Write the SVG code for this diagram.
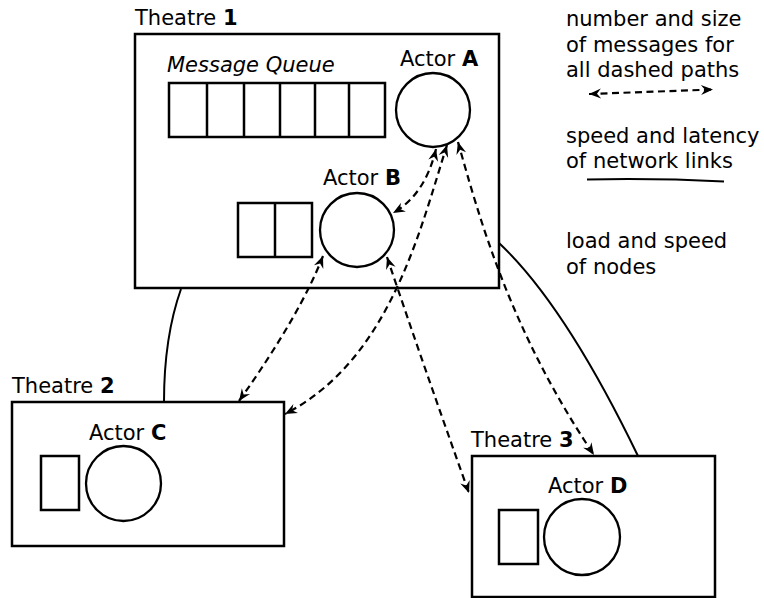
<svg xmlns="http://www.w3.org/2000/svg" width="764" height="598" viewBox="0 0 764 598">
<style>
text{font-family:"DejaVu Sans","Liberation Sans",sans-serif;font-size:21px;fill:#000}
.b{font-weight:bold}
.box{fill:#fff;stroke:#000;stroke-width:2.5}
.q{fill:none;stroke:#000;stroke-width:2.5}
.actor{fill:#fff;stroke:#000;stroke-width:2.3}
.link{fill:none;stroke:#000;stroke-width:2}
.msg{fill:none;stroke:#000;stroke-width:2.2;stroke-dasharray:7,4.5;marker-start:url(#ah);marker-end:url(#ah)}
</style>
<defs>
<marker id="ah" viewBox="-14 -7 16 14" markerWidth="16" markerHeight="14" refX="0" refY="0" orient="auto-start-reverse" markerUnits="userSpaceOnUse">
<path d="M0,0 L-12,-5 L-8,0 L-12,5 z" fill="#000"/>
</marker>
</defs>
<rect width="764" height="598" fill="#fff"/>
<g id="links">
<path class="link" d="M181,289 C170,320 164,360 164,402"/>
<path class="link" d="M499,243 Q565,305 638,456"/>
</g>
<g id="theatre1">
<rect class="box" x="135" y="34" width="364" height="254"/>
<text x="135" y="25">Theatre <tspan class="b">1</tspan></text>
<text x="167" y="72" font-style="italic">Message Queue</text>
<rect class="q" x="169" y="83" width="216" height="54"/>
<path class="q" d="M207,83V137M244,83V137M280,83V137M315,83V137M349,83V137"/>
</g>
<g id="actorA">
<circle class="actor" cx="433" cy="110" r="37"/>
<text x="400" y="66">Actor <tspan class="b">A</tspan></text>
</g>
<g id="actorB">
<rect class="q" x="238" y="203" width="74" height="54"/>
<path class="q" d="M275,203V257"/>
<circle class="actor" cx="357" cy="230" r="37"/>
<text x="323" y="185">Actor <tspan class="b">B</tspan></text>
</g>
<g id="theatre2">
<rect class="box" x="12" y="402" width="272" height="144"/>
<text x="12" y="393">Theatre <tspan class="b">2</tspan></text>
</g>
<g id="actorC">
<rect class="q" x="41" y="456" width="38" height="54"/>
<circle class="actor" cx="123.5" cy="483.5" r="37.5"/>
<text x="89" y="440">Actor <tspan class="b">C</tspan></text>
</g>
<g id="theatre3">
<rect class="box" x="472" y="456" width="243" height="141"/>
<text x="471" y="447">Theatre <tspan class="b">3</tspan></text>
</g>
<g id="actorD">
<rect class="q" x="499" y="510" width="39" height="54"/>
<circle class="actor" cx="582" cy="537" r="38"/>
<text x="548" y="493">Actor <tspan class="b">D</tspan></text>
</g>
<g id="messages">
<path class="msg" d="M436,149 Q425,195 393,213"/>
<path class="msg" d="M447,145 C420,230 390,360 285,414"/>
<path class="msg" d="M323,256 Q300,315 239,401"/>
<path class="msg" d="M387,257 Q425,370 469,493"/>
<path class="msg" d="M458,142 C480,220 510,330 594,455"/>
</g>
<g id="legend">
<text x="566" y="26">number and size</text>
<text x="566" y="52">of messages for</text>
<text x="566" y="77">all dashed paths</text>
<path class="msg" d="M589,94 L713,89.5"/>
<text x="566" y="143">speed and latency</text>
<text x="566" y="168">of network links</text>
<path class="link" d="M587,179.5 Q655,178 724,181.5"/>
<text x="566" y="248">load and speed</text>
<text x="566" y="274">of nodes</text>
</g>
</svg>
